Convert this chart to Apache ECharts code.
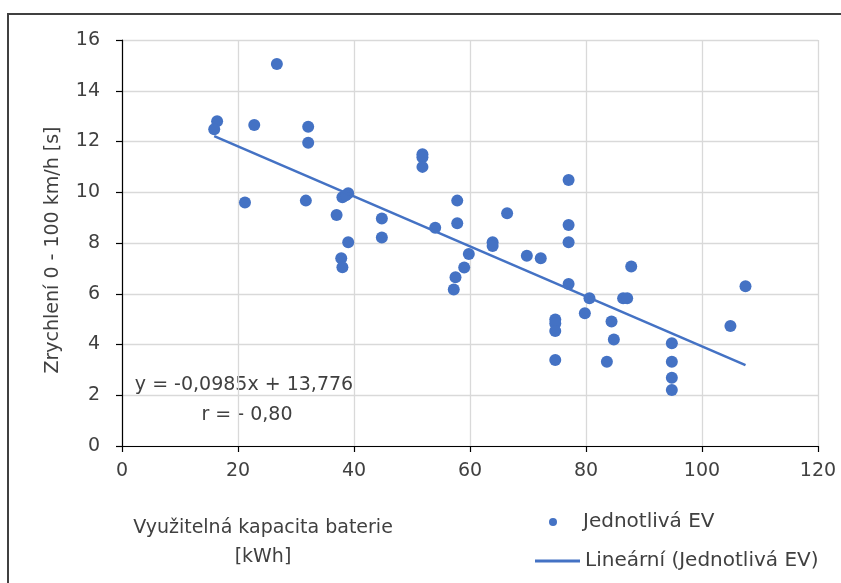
<!DOCTYPE html>
<html>
<head>
<meta charset="utf-8">
<script src="https://cdn.jsdelivr.net/npm/echarts@6/dist/echarts.min.js"></script>
<style>
html,body{margin:0;padding:0;background:#fff;}
#c{width:841px;height:583px;}
</style>
</head>
<body>
<div id="c"></div>
<script>
// Battery usable capacity [kWh]
const capacity = [16.4, 15.9, 26.7, 22.8, 32.1, 32.1, 21.2, 31.7, 39.0, 38.0, 38.6, 37.0, 39.0, 37.8, 38.0,
  44.8, 44.8, 51.8, 51.8, 51.8, 54.0, 57.8, 57.8, 59.8, 59.0, 57.5, 57.2, 63.9, 63.9, 66.4, 69.8, 72.2,
  77.0, 77.0, 77.0, 77.0, 74.7, 74.7, 74.7, 74.7, 80.6, 79.8, 87.8, 86.4, 87.1, 84.4, 84.8, 83.6,
  94.8, 94.8, 94.8, 94.8, 104.9, 107.5];
// Acceleration 0-100 km/h [s]
const acceleration = [12.8, 12.48, 15.05, 12.65, 12.58, 11.95, 9.6, 9.67, 9.96, 9.8, 9.88, 9.1, 8.03, 7.4, 7.04,
  8.97, 8.22, 11.5, 11.38, 11.0, 8.6, 9.67, 8.78, 7.57, 7.03, 6.65, 6.17, 8.03, 7.88, 9.17, 7.5, 7.4,
  10.48, 8.71, 8.03, 6.38, 4.99, 4.83, 4.53, 3.39, 5.82, 5.23, 7.07, 5.82, 5.82, 4.91, 4.2, 3.32,
  4.05, 3.32, 2.69, 2.21, 4.73, 6.3];
// Trendline coefficients as printed on the chart
const slope = -0.0985;
const intercept = 13.776;
const xTicks = [0, 20, 40, 60, 80, 100, 120];
const yTicks = [0, 2, 4, 6, 8, 10, 12, 14, 16];
const seriesName = 'Jednotlivá EV';
const trendName = 'Lineární (Jednotlivá EV)';
const eqText = 'y = -0,0985x + 13,776';
const rText = 'r = - 0,80';
const xTitle = 'Využitelná kapacita baterie\n[kWh]';
const yTitle = 'Zrychlení 0 - 100 km/h [s]';

const FONT = '"DejaVu Sans"';
const FS = 19;
const LFS = 20;
const TXT = '#404040';
const BLUE = '#4472C4';

const points = capacity.map((x, i) => [x, acceleration[i]]);
const xMin = Math.min(...capacity), xMax = Math.max(...capacity);
const trend = [[xMin, intercept + slope * xMin], [xMax, intercept + slope * xMax]];

const chart = echarts.init(document.getElementById('c'), null, {renderer: 'canvas'});
chart.setOption({
  animation: false,
  backgroundColor: '#fff',
  grid: {left: 122, right: 23, top: 40, bottom: 137, containLabel: false},
  xAxis: {
    type: 'value', min: xTicks[0], max: xTicks[xTicks.length - 1], interval: 20,
    axisLine: {show: true, onZero: false, lineStyle: {color: '#000', width: 1.2}},
    axisTick: {show: true, inside: false, length: 6, lineStyle: {color: '#000', width: 1.2}},
    axisLabel: {color: TXT, fontFamily: FONT, fontSize: FS, margin: 16},
    splitLine: {show: true, lineStyle: {color: '#d9d9d9', width: 1.3}}
  },
  yAxis: {
    type: 'value', min: yTicks[0], max: yTicks[yTicks.length - 1], interval: 2,
    axisLine: {show: true, onZero: false, lineStyle: {color: '#000', width: 1.2}},
    axisTick: {show: true, inside: false, length: 6, lineStyle: {color: '#000', width: 1.2}},
    axisLabel: {color: TXT, fontFamily: FONT, fontSize: FS, margin: 22},
    splitLine: {show: true, lineStyle: {color: '#d9d9d9', width: 1.3}}
  },
  legend: [
    {
      data: [{name: seriesName, icon: 'circle'}], left: 544, top: 507, orient: 'vertical',
      itemWidth: 50, itemHeight: 8,
      textStyle: {color: TXT, fontFamily: FONT, fontSize: LFS}
    },
    {
      data: [{name: trendName, icon: 'rect'}], left: 530, top: 546, orient: 'vertical',
      itemWidth: 45, itemHeight: 3,
      textStyle: {color: TXT, fontFamily: FONT, fontSize: LFS}
    }
  ],
  series: [
    {
      name: seriesName, type: 'scatter', data: points,
      symbol: 'circle', symbolSize: 12,
      itemStyle: {color: BLUE, opacity: 1}
    },
    {
      name: trendName, type: 'line', data: trend,
      symbol: 'none', showSymbol: false,
      lineStyle: {color: BLUE, width: 2.6},
      itemStyle: {color: BLUE}
    }
  ],
  graphic: [
    {type: 'rect', shape: {x: 8, y: 14, width: 900, height: 700}, style: {fill: null, stroke: '#404040', lineWidth: 2}, silent: true},
    {type: 'text', x: 244, y: 385, style: {text: eqText, fill: TXT, font: FS + 'px ' + FONT, textAlign: 'center', textVerticalAlign: 'middle'}},
    {type: 'text', x: 247, y: 415, style: {text: rText, fill: TXT, font: FS + 'px ' + FONT, textAlign: 'center', textVerticalAlign: 'middle'}},
    {type: 'text', x: 263, y: 543, style: {text: xTitle, fill: TXT, font: FS + 'px ' + FONT, textAlign: 'center', textVerticalAlign: 'middle', lineHeight: 29}},
    {type: 'text', x: 53, y: 250, rotation: Math.PI / 2, style: {text: yTitle, fill: TXT, font: FS + 'px ' + FONT, textAlign: 'center', textVerticalAlign: 'middle'}}
  ]
});
</script>
</body>
</html>
